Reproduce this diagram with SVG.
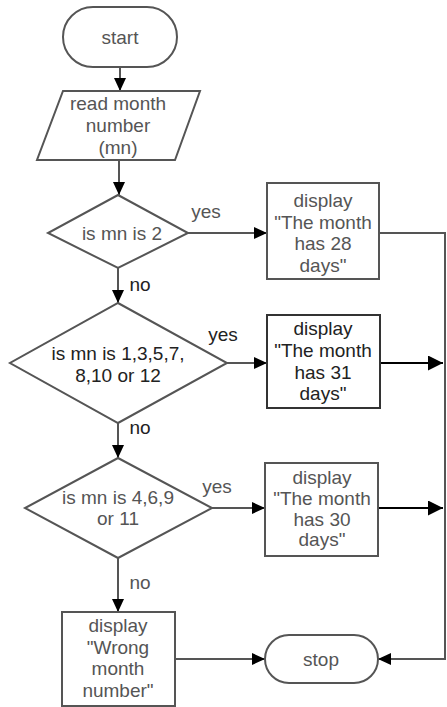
<svg xmlns="http://www.w3.org/2000/svg" width="447" height="707" viewBox="0 0 447 707">
<defs>
<marker id="ah" markerUnits="userSpaceOnUse" markerWidth="13" markerHeight="12" refX="13" refY="6" orient="auto">
<path d="M0,0 L13,6 L0,12 z" fill="#000"/>
</marker>
<marker id="ahb" markerUnits="userSpaceOnUse" markerWidth="15" markerHeight="15" refX="15" refY="7.5" orient="auto">
<path d="M0,0 L15,7.5 L0,15 z" fill="#000"/>
</marker>
<style>
.s{fill:#fff;stroke:#555;stroke-width:2}
.t{font-family:"Liberation Sans",Arial,sans-serif;font-size:19px;fill:#555;text-anchor:middle}
.d{fill:#222}
.c{fill:none;stroke:#555;stroke-width:2}
.k{fill:none;stroke:#000;stroke-width:2.2}
</style>
</defs>
<rect width="447" height="707" fill="#fff"/>
<g id="connectors">
<line class="c" x1="120" y1="67" x2="120" y2="91" marker-end="url(#ah)"/>
<line class="c" x1="119" y1="161" x2="119" y2="195" marker-end="url(#ah)"/>
<line class="c" x1="188" y1="233" x2="267" y2="233" marker-end="url(#ah)"/>
<line class="c" x1="118" y1="268" x2="118" y2="303" marker-end="url(#ah)"/>
<line class="c" x1="227" y1="363" x2="267" y2="363" marker-end="url(#ah)"/>
<line class="c" x1="118" y1="423" x2="118" y2="458" marker-end="url(#ah)"/>
<line class="c" x1="212" y1="508" x2="265" y2="508" marker-end="url(#ah)"/>
<line class="c" x1="118" y1="558" x2="118" y2="612" marker-end="url(#ah)"/>
<line class="c" x1="175" y1="659" x2="265" y2="659" marker-end="url(#ah)"/>
<polyline class="c" points="379,233 445,233 445,659 378,659" marker-end="url(#ah)"/>
<line class="k" x1="380" y1="363" x2="443" y2="363" marker-end="url(#ahb)"/>
<line class="k" x1="378" y1="508" x2="443" y2="508" marker-end="url(#ahb)"/>
<text class="t" x="206" y="218">yes</text>
<text class="t d" x="223" y="341">yes</text>
<text class="t" x="217" y="493">yes</text>
<text class="t d" x="140" y="291">no</text>
<text class="t d" x="140" y="434">no</text>
<text class="t" x="140" y="589">no</text>
</g>
<g id="start">
<rect class="s" x="63" y="7" width="114" height="60" rx="30"/>
<text class="t" x="120" y="44">start</text>
</g>
<g id="read">
<polygon class="s" points="63,91 200,91 175,160 37,160"/>
<text class="t" x="118" y="110">read month</text>
<text class="t" x="118" y="132">number</text>
<text class="t" x="118" y="154">(mn)</text>
</g>
<g id="d1">
<polygon class="s" points="118,195 188,233 118,268 48,233"/>
<text class="t" x="122" y="240">is mn is 2</text>
</g>
<g id="box1">
<rect class="s" x="267" y="183" width="112" height="96"/>
<text class="t" x="323" y="207">display</text>
<text class="t" x="323" y="229">"The month</text>
<text class="t" x="323" y="250">has 28</text>
<text class="t" x="323" y="272">days"</text>
</g>
<g id="d2">
<polygon class="s" points="118,303 227,363 118,423 10,363"/>
<text class="t d" x="118" y="360">is mn is 1,3,5,7,</text>
<text class="t d" x="118" y="382">8,10 or 12</text>
</g>
<g id="box2">
<rect class="s" x="267" y="315" width="113" height="93" style="stroke:#333"/>
<text class="t d" x="323" y="335">display</text>
<text class="t d" x="323" y="357">"The month</text>
<text class="t d" x="323" y="379">has 31</text>
<text class="t d" x="323" y="400">days"</text>
</g>
<g id="d3">
<polygon class="s" points="118,458 212,508 118,558 25,508"/>
<text class="t" x="118" y="504">is mn is 4,6,9</text>
<text class="t" x="118" y="525">or 11</text>
</g>
<g id="box3">
<rect class="s" x="265" y="463" width="113" height="93"/>
<text class="t" x="322" y="484">display</text>
<text class="t" x="322" y="505">"The month</text>
<text class="t" x="322" y="526">has 30</text>
<text class="t" x="322" y="546">days"</text>
</g>
<g id="box4">
<rect class="s" x="62" y="612" width="113" height="94"/>
<text class="t" x="118" y="632">display</text>
<text class="t" x="118" y="654">"Wrong</text>
<text class="t" x="118" y="675">month</text>
<text class="t" x="118" y="697">number"</text>
</g>
<g id="stop">
<rect class="s" x="265" y="635" width="113" height="48" rx="24"/>
<text class="t" x="321" y="666">stop</text>
</g>
</svg>
